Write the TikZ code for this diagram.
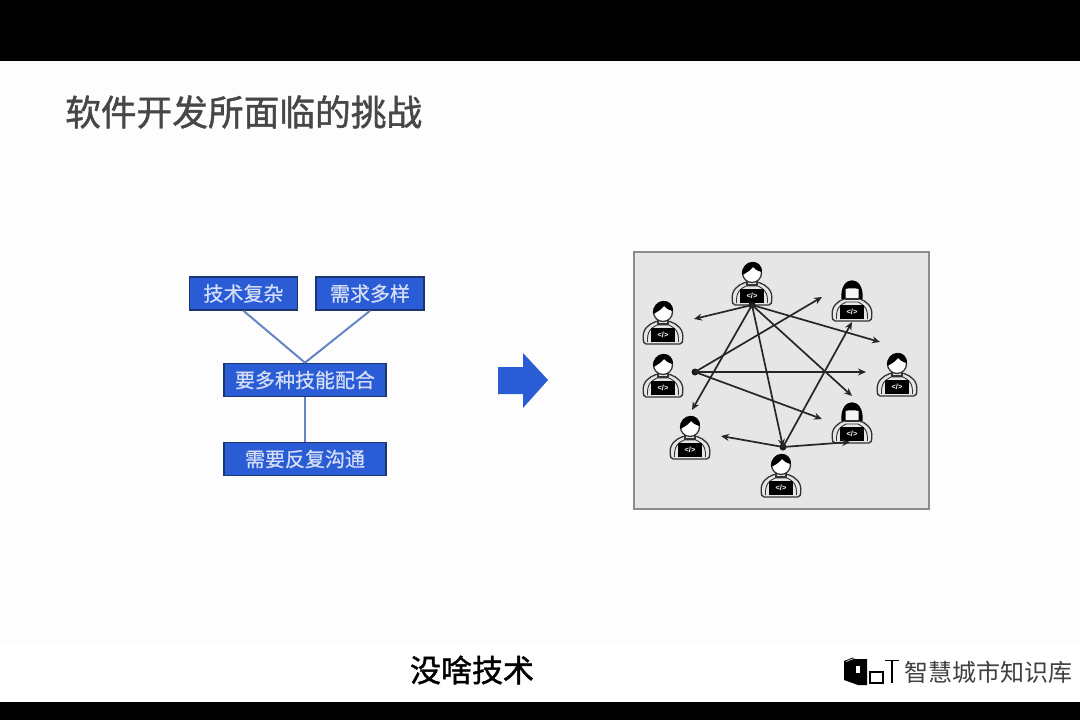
\documentclass[tikz,border=0pt]{standalone}
\usepackage{fontspec}
\setmainfont{Noto Sans CJK SC}
\newfontfamily\titlefont[FakeBold=1.2]{Noto Sans CJK SC}
\newfontfamily\capfont[FakeBold=1.4]{Noto Sans CJK SC}
\newfontfamily\boxfont[FakeBold=0.6]{Noto Sans CJK SC}
\newfontfamily\codefont{Liberation Sans}
\usetikzlibrary{arrows.meta}
\definecolor{boxblue}{HTML}{2A5CD6}
\definecolor{boxedge}{HTML}{1A3570}
\definecolor{linkblue}{HTML}{6487C4}
\definecolor{boxtext}{HTML}{D5DEF6}
\definecolor{panelgray}{HTML}{E6E6E6}
\definecolor{paneledge}{HTML}{8C8C8C}
\definecolor{slidebg}{HTML}{FDFDFD}
\tikzset{
  x=1pt,y=-1pt,
  bluebox/.style={draw=boxedge,line width=1.6pt,fill=boxblue,text=boxtext,inner sep=0pt,
    minimum height=33pt,font=\boxfont\fontsize{20}{20}\selectfont},
  linkline/.style={draw=linkblue,line width=2pt},
  talk/.style={draw=black!85,line width=1.7pt,-{Stealth[length=8pt,width=7pt]}},
  personline/.style={draw=black!80,line width=1.3pt},
  lap/.style={fill=black,minimum width=24pt,minimum height=14pt,inner sep=0pt,text=white,
    font=\codefont\bfseries\fontsize{7.5}{7.5}\selectfont},
  pics/coderbody/.style={code={
    \draw[personline,fill=panelgray,rounded corners=2pt] (-19.5,7) .. controls (-21,-5) and (-14,-10) .. (-5.5,-13)
       -- (5.5,-13) .. controls (14,-10) and (21,-5) .. (19.5,7) -- (19,10) -- (-19,10) -- cycle;
    \draw[personline,line width=.9pt] (-15.5,8) .. controls (-16,-3) and (-12,-6) .. (-6,-9) -- (6,-9)
       .. controls (12,-6) and (16,-3) .. (15.5,8);
  }},
  pics/coder/.style={code={
    \pic {coderbody};
    \draw[personline,fill=panelgray] (-5,-15) -- (-5,-10) -- (5,-10) -- (5,-15);
    \draw[personline,fill=white] (0,-22) circle[radius=9.5];
    \fill[black] (-9.8,-20) .. controls (-11,-37) and (11,-37) .. (9.8,-23)
       .. controls (5,-24) and (3,-26) .. (1,-28) .. controls (-2,-24) and (-6,-22) .. (-9.8,-20) -- cycle;
    \node[lap] (-lap) at (0,1) {</>};
  }},
  pics/coderw/.style={code={
    \pic {coderbody};
    \fill[black] (-10.5,-12) .. controls (-13,-37) and (13,-37) .. (10.5,-12) -- cycle;
    \fill[panelgray!40!white] (-6.5,-12) -- (-6.5,-22) .. controls (-3,-23) and (3,-23) .. (6.5,-22) -- (6.5,-12) -- cycle;
    \draw[personline] (-7,-12) -- (7,-12);
    \node[lap] (-lap) at (0,1) {</>};
  }},
}
\begin{document}
\begin{tikzpicture}
\useasboundingbox (0,0) rectangle (1080,720);
% frame
\fill[slidebg] (0,61) rectangle (1080,643);
\fill[white] (0,643) rectangle (1080,702);
\fill[black] (0,0) rectangle (1080,61);
\fill[black] (0,702) rectangle (1080,720);
% title
\node[anchor=west,inner sep=0pt,text=black!72,font=\titlefont\fontsize{35.7}{37}\selectfont] (title) at (65,112) {软件开发所面临的挑战};
% left tree
\node[bluebox,minimum width=108pt] (b1) at (243.5,293.5) {技术复杂};
\node[bluebox,minimum width=108pt] (b2) at (370,293.5) {需求多样};
\node[bluebox,minimum width=162pt] (b3) at (305,380) {要多种技能配合};
\node[bluebox,minimum width=162pt] (b4) at (305,459) {需要反复沟通};
\draw[linkline] (b1.south) -- (b3.north);
\draw[linkline] (b2.south) -- (b3.north);
\draw[linkline] (b3.south) -- (b4.north);
% big arrow
\fill[boxblue] (498,367) -- (523,367) -- (523,353) -- (548,380) -- (523,408) -- (523,394) -- (498,394) -- cycle;
% panel
\draw[draw=paneledge,line width=1.5pt,fill=panelgray] (634,252) rectangle (929,509);
% people
\pic (p1) at (752,295) {coder};
\pic (p2) at (663,334) {coder};
\pic (p3) at (663,387) {coder};
\pic (p4) at (690,449) {coder};
\pic (p5) at (781,487) {coder};
\pic (p6) at (852,433) {coderw};
\pic (p7) at (897,386) {coder};
\pic (p8) at (852,311) {coderw};
% hubs and free ends
\coordinate (h1) at (752,305);
\coordinate (h2) at (695,372);
\coordinate (h3) at (783,447);
\coordinate (e1) at (694,319);
\coordinate (e2) at (880,342);
\coordinate (e3) at (692,410);
\coordinate (e4) at (852,396);
\coordinate (e5) at (822,297);
\coordinate (e6) at (866,372);
\coordinate (e7) at (822,419);
\coordinate (e8) at (721,436);
\coordinate (e9) at (852,322);
\coordinate (e10) at (850,442);
\fill[black!90] (h1) circle[radius=3.5];
\fill[black!90] (h2) circle[radius=3.5];
\fill[black!90] (h3) circle[radius=3.5];
\draw[talk] (h1) -- (e1);
\draw[talk] (h1) -- (e2);
\draw[talk] (h1) -- (e3);
\draw[talk] (h1) -- (h3);
\draw[talk] (h1) -- (e4);
\draw[talk] (h2) -- (e5);
\draw[talk] (h2) -- (e6);
\draw[talk] (h2) -- (e7);
\draw[talk] (h3) -- (e8);
\draw[talk] (h3) -- (e9);
\draw[talk] (h3) -- (e10);
% caption
\node[inner sep=0pt,font=\capfont\fontsize{31}{32}\selectfont,text=black] (cap) at (472,670) {没啥技术};
% logo
\fill[black] (844,661) -- (853,657.5) -- (855,659) -- (867,659) -- (867,685) -- (858,685) -- (844,680) -- cycle;
\draw[white,line width=.6pt] (846,661.5) -- (854,658.5);
\fill[white] (856,666) rectangle (860,673);
\draw[black,line width=1.1pt] (870,672) rectangle (883,683);
\draw[black,line width=1.1pt] (885,660.5) -- (899,660.5);
\draw[black,line width=1.1pt] (892,660.5) -- (892,683);
\node[anchor=west,inner sep=0pt,font=\fontsize{24}{24}\selectfont,text=black!75] (logo) at (904,672) {智慧城市知识库};
\end{tikzpicture}
\end{document}
